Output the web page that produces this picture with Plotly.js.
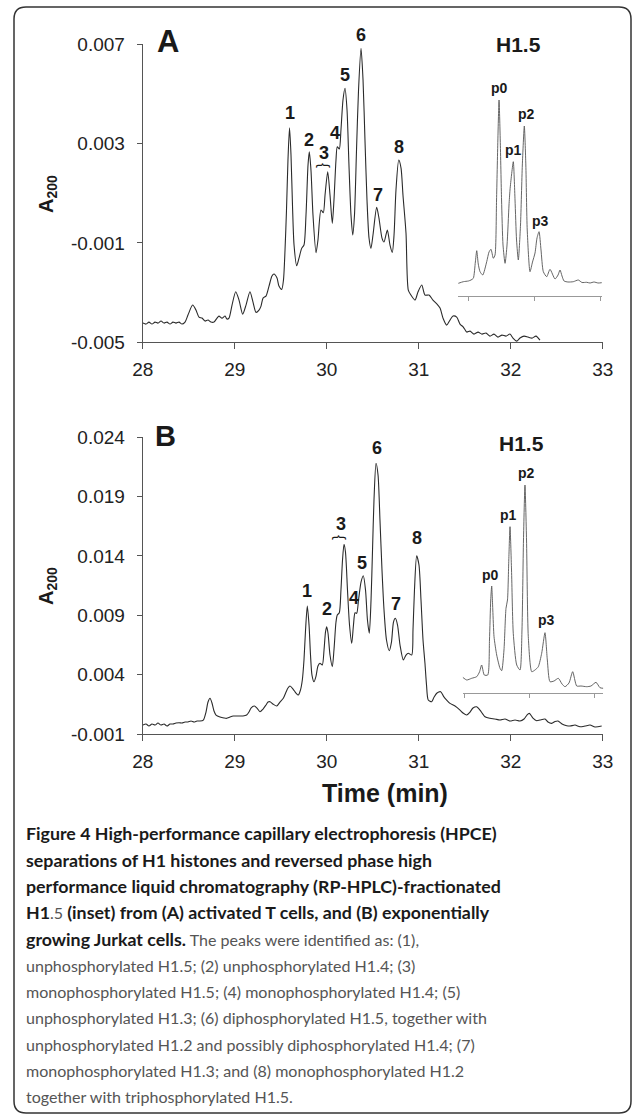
<!DOCTYPE html>
<html>
<head>
<meta charset="utf-8">
<script src="https://cdn.plot.ly/plotly-3.0.1.min.js"></script>
<style>
html,body{margin:0;padding:0;background:#fff;}
#chart{width:633px;height:1116px;}
</style>
</head>
<body>
<div id="chart"></div>
<script>
// ---------- DATA ----------
// Panel A: HPCE of activated T cells (time in min, A200)
const timeA = [28.003,28.036,28.068,28.101,28.134,28.166,28.199,28.232,28.264,28.297,28.329,28.362,28.395,28.427,28.460,
  28.492,28.543,28.579,28.612,28.645,28.677,28.710,28.742,28.775,28.808,28.829,28.862,28.895,28.916,28.938,
  28.971,29.011,29.047,29.087,29.123,29.166,29.199,29.232,29.264,29.286,29.308,29.340,29.373,29.405,29.427,
  29.460,29.481,29.511,29.530,29.547,29.563,29.579,29.596,29.612,29.628,29.645,29.674,29.699,29.728,29.753,
  29.775,29.797,29.811,29.829,29.851,29.884,29.905,29.938,29.963,29.982,30.011,30.036,30.061,30.079,30.101,
  30.115,30.137,30.155,30.177,30.199,30.221,30.242,30.264,30.283,30.302,30.324,30.346,30.373,30.395,30.416,
  30.438,30.460,30.481,30.503,30.543,30.568,30.601,30.623,30.659,30.688,30.713,30.732,30.753,30.783,30.808,
  30.829,30.862,30.887,30.916,30.960,30.992,31.033,31.068,31.112,31.155,31.199,31.232,31.264,31.304,31.340,
  31.373,31.413,31.449,31.485,31.522,31.558,31.601,31.645,31.688,31.732,31.775,31.818,31.862,31.905,31.949,
  31.992,32.025,32.065,32.101,32.145,32.188,32.232,32.275,32.318];
const absA = [-0.004226,-0.004266,-0.004186,-0.004266,-0.004186,-0.004226,-0.004145,-0.004226,-0.004186,-0.004266,-0.004186,-0.004226,-0.004186,-0.004266,-0.004186,
  -0.003904,-0.003501,-0.003702,-0.003985,-0.004025,-0.004145,-0.004105,-0.004186,-0.004186,-0.004025,-0.003944,-0.004025,-0.003944,-0.004065,-0.004025,
  -0.003501,-0.002965,-0.003300,-0.003864,-0.003501,-0.002965,-0.003380,-0.003795,-0.003702,-0.003541,-0.003219,-0.003138,-0.002736,-0.002333,-0.002252,
  -0.002413,-0.002736,-0.002869,-0.002494,-0.001286,0.000326,0.002340,0.003641,0.002541,0.000527,-0.001084,-0.001918,-0.001608,-0.001217,-0.001084,
  0.000124,0.002138,0.002674,0.001937,0.000124,-0.001394,-0.000883,0.000326,0.000217,0.000930,0.001868,0.000930,-0.000210,0.000728,0.002340,
  0.002875,0.002783,0.003548,0.004756,0.005228,0.004354,0.002138,0.000124,-0.000681,0.000124,0.002742,0.005159,0.006839,0.005562,0.003145,
  0.000728,-0.000802,-0.001217,-0.000681,0.000434,0.000003,-0.000802,-0.000963,-0.000480,-0.001084,-0.001378,-0.000681,0.001131,0.002340,0.002017,
  0.000930,-0.000601,-0.002897,-0.003098,-0.003300,-0.002977,-0.002695,-0.003098,-0.003098,-0.003300,-0.003461,-0.003622,-0.004025,-0.004307,-0.004105,
  -0.003944,-0.003985,-0.004266,-0.004387,-0.004589,-0.004549,-0.004669,-0.004589,-0.004669,-0.004629,-0.004750,-0.004669,-0.004790,-0.004710,-0.004750,
  -0.004669,-0.004830,-0.004951,-0.004830,-0.004750,-0.004790,-0.004830,-0.004750,-0.004911];

// Panel B: HPCE of exponentially growing Jurkat cells
const timeB = [28.003,28.036,28.068,28.101,28.134,28.166,28.199,28.232,28.264,28.297,28.329,28.362,28.395,28.427,28.460,28.492,28.525,28.558,28.590,28.623,
  28.659,28.688,28.710,28.732,28.753,28.775,28.797,28.840,28.884,28.913,28.949,28.985,29.025,29.058,29.090,29.130,29.155,29.177,29.213,29.242,
  29.275,29.308,29.340,29.362,29.384,29.416,29.457,29.492,29.528,29.558,29.579,29.601,29.634,29.666,29.691,29.715,29.735,29.753,29.770,29.789,
  29.808,29.824,29.840,29.862,29.884,29.905,29.927,29.952,29.971,29.987,30.000,30.014,30.036,30.061,30.079,30.101,30.115,30.137,30.155,30.172,
  30.188,30.204,30.226,30.248,30.272,30.291,30.308,30.326,30.346,30.373,30.398,30.422,30.443,30.463,30.482,30.498,30.514,30.536,30.558,30.579,
  30.601,30.623,30.650,30.680,30.704,30.726,30.746,30.770,30.797,30.833,30.862,30.887,30.924,30.938,30.954,30.978,31.003,31.025,31.047,31.068,
  31.085,31.104,31.141,31.166,31.199,31.239,31.270,31.304,31.340,31.395,31.449,31.482,31.522,31.558,31.590,31.630,31.666,31.721,31.775,31.829,
  31.884,31.938,31.992,32.047,32.101,32.145,32.177,32.202,32.242,32.283,32.318,32.373,32.405,32.446,32.482,32.514,32.558,32.609,32.645,32.699,
  32.753,32.808,32.862,32.917,32.989];
const absB = [-0.000245,-0.000160,-0.000329,-0.000160,-0.000245,-0.000076,-0.000245,-0.000160,-0.000329,-0.000160,-0.000160,-0.000076,-0.000051,-0.000076,0.000008,0.000008,0.000093,0.000008,0.000093,0.000093,
  0.000177,0.000851,0.001694,0.002006,0.001610,0.000935,0.000598,0.000430,0.000346,0.000320,0.000430,0.000514,0.000514,0.000514,0.000514,0.000598,0.000851,0.001188,0.001357,0.001188,
  0.000876,0.001104,0.001441,0.001694,0.001719,0.001525,0.001357,0.001694,0.002006,0.002536,0.002874,0.003042,0.002790,0.002452,0.002284,0.002705,0.003548,0.005233,0.007761,0.009784,
  0.008183,0.005655,0.003969,0.003404,0.003885,0.004727,0.004955,0.004812,0.006076,0.007593,0.008039,0.007509,0.005655,0.004669,0.006076,0.008435,0.009025,0.009219,0.011132,0.013660,
  0.014983,0.014334,0.011132,0.008183,0.006640,0.008183,0.009219,0.009168,0.010289,0.011806,0.012337,0.011132,0.008604,0.007483,0.010289,0.014503,0.018716,0.021809,0.020823,0.017031,
  0.012817,0.009447,0.006918,0.006017,0.006749,0.008435,0.008747,0.008183,0.006497,0.005233,0.005655,0.005798,0.005655,0.007761,0.011132,0.014022,0.013239,0.010289,0.006918,0.004955,
  0.003126,0.001862,0.001719,0.002090,0.002452,0.002562,0.002174,0.001862,0.001584,0.001357,0.001019,0.000767,0.000598,0.000851,0.001188,0.001297,0.001019,0.000455,0.000320,0.000261,
  0.000177,0.000261,0.000093,0.000177,0.000093,0.000261,0.000598,0.000741,0.000346,0.000118,0.000177,0.000261,0.000008,-0.000102,0.000051,0.000093,-0.000160,-0.000303,-0.000329,-0.000245,
  -0.000387,-0.000329,-0.000245,-0.000413,-0.000329];

// Insets: RP-HPLC-fractionated H1.5 (arbitrary time / signal units)
const insetTimeA = [-0.147,-0.071,0.005,0.045,0.080,0.111,0.132,0.155,0.182,0.223,0.283,0.318,0.348,0.383,0.409,0.432,0.452,0.470,0.488,0.508,
  0.530,0.561,0.591,0.621,0.636,0.659,0.686,0.712,0.735,0.762,0.795,0.823,0.853,0.876,0.897,0.939,0.977,1.015,1.045,1.076,
  1.106,1.141,1.192,1.242,1.318,1.364,1.394,1.424,1.455,1.515,1.595,1.671,1.727,1.798,1.848,1.909,1.970,2.026];
const insetSignalA = [0.127,0.143,0.150,0.160,0.177,0.340,0.453,0.320,0.243,0.210,0.343,0.440,0.467,0.377,0.410,0.960,1.560,1.960,1.560,0.960,
  0.510,0.327,0.510,0.910,1.060,1.210,1.343,0.960,0.560,0.360,0.710,1.310,1.700,1.310,0.660,0.243,0.340,0.430,0.580,0.643,
  0.460,0.243,0.193,0.267,0.170,0.210,0.260,0.200,0.150,0.140,0.143,0.160,0.135,0.137,0.130,0.140,0.130,0.133];
const insetTimeB = [-0.020,0.042,0.118,0.195,0.238,0.272,0.312,0.365,0.392,0.411,0.426,0.443,0.462,0.503,0.554,0.580,0.615,0.646,0.669,0.689,
  0.708,0.731,0.758,0.811,0.862,0.892,0.915,0.938,0.962,0.989,1.042,1.092,1.143,1.195,1.246,1.282,1.323,1.385,1.451,1.508,
  1.554,1.615,1.672,1.734,1.800,1.888,1.954,2.031,2.092,2.143];
const insetSignalB = [0.154,0.127,0.144,0.160,0.207,0.277,0.177,0.177,0.527,0.927,1.067,0.827,0.560,0.377,0.244,0.220,0.427,0.844,0.927,1.327,
  1.660,1.227,0.594,0.277,0.227,0.627,1.527,2.077,1.527,0.560,0.210,0.227,0.260,0.394,0.600,0.327,0.110,0.117,0.144,0.087,
  0.060,0.097,0.210,0.067,0.067,0.060,0.067,0.104,0.050,0.044];

const timeTicks = [28, 29, 30, 31, 32, 33];
const yTicksA = [-0.005, -0.001, 0.003, 0.007];
const yTickTextA = ['-0.005', '-0.001', '0.003', '0.007'];
const yTicksB = [-0.001, 0.004, 0.009, 0.014, 0.019, 0.024];
const yTickTextB = ['-0.001', '0.004', '0.009', '0.014', '0.019', '0.024'];
const insetTicks = [0, 1, 2];

const peakNames = ['1', '2', '3', '4', '5', '6', '7', '8'];
const insetPeakNames = ['p0', 'p1', 'p2', 'p3'];

const B0 = '<span style="color:#1a1a1a;font-size:17.8px"><b>';
const B1 = '</b></span>';
const captionLines = [
  B0 + 'Figure 4 High-performance capillary electrophoresis (HPCE)' + B1,
  B0 + 'separations of H1 histones and reversed phase high' + B1,
  B0 + 'performance liquid chromatography (RP-HPLC)-fractionated' + B1,
  B0 + 'H1' + B1 + '.5 ' + B0 + '(inset) from (A) activated T cells, and (B) exponentially' + B1,
  B0 + 'growing Jurkat cells.' + B1 + ' The peaks were identified as: (1),',
  'unphosphorylated H1.5; (2) unphosphorylated H1.4; (3)',
  'monophosphorylated H1.5; (4) monophosphorylated H1.4; (5)',
  'unphosphorylated H1.3; (6) diphosphorylated H1.5, together with',
  'unphosphorylated H1.2 and possibly diphosphorylated H1.4; (7)',
  'monophosphorylated H1.3; and (8) monophosphorylated H1.2',
  'together with triphosphorylated H1.5.'
];

// ---------- LAYOUT HELPERS ----------
const W = 633, H = 1116;
const P = x => x / W;
const Q = y => 1 - y / H;
const AX = '#555';
const tickFont = {family: 'Liberation Sans, Arial, sans-serif', size: 19, color: '#222'};
const boldFam = 'Liberation Sans, Arial, sans-serif';

function mainX(anchor) {
  return {domain: [P(142.7), P(602.7)], anchor: anchor, range: [28, 33], tickvals: timeTicks,
    ticktext: timeTicks.map(String), ticks: 'outside', ticklen: 6, tickcolor: AX, tickwidth: 1,
    showline: true, linecolor: AX, linewidth: 1, showgrid: false, zeroline: false,
    tickfont: tickFont, ticklabelstandoff: 4, fixedrange: true};
}
function mainY(anchor, dom, rng, tv, tt) {
  return {domain: dom, anchor: anchor, range: rng, tickvals: tv, ticktext: tt, ticks: 'outside',
    ticklen: 5, tickcolor: AX, tickwidth: 1, showline: true, linecolor: AX, linewidth: 1,
    showgrid: false, zeroline: false, tickfont: tickFont, ticklabelstandoff: 8, fixedrange: true};
}
function insetX(anchor, dom, rng) {
  return {domain: dom, anchor: anchor, range: rng, tickvals: insetTicks, ticks: 'outside', ticklen: 4,
    tickcolor: '#999', showticklabels: false, showline: true, linecolor: '#999', linewidth: 1,
    showgrid: false, zeroline: false, fixedrange: true};
}
function insetY(anchor, dom) {
  return {domain: dom, anchor: anchor, range: [0, 2.2], visible: false, showgrid: false, zeroline: false, fixedrange: true};
}

function label(text, x, y, size, extra) {
  return Object.assign({text: text, xref: 'paper', yref: 'paper', x: P(x), y: Q(y), xanchor: 'center',
    yanchor: 'middle', showarrow: false, font: {family: boldFam, size: size, color: '#1a1a1a'}}, extra || {});
}

// peak label pixel positions (layout only)
const peakPosA = [[289.5,113],[309,140],[324,153],[334.5,133],[345,75],[361,35],[377.7,195],[399.3,146.7]];
const peakPosB = [[307,590.5],[326.7,609.3],[341,524],[354,598.3],[362.3,562.7],[376.7,448.3],[395.7,604],[416.7,537.7]];
const insetPosA = [[499,88.3],[513.3,150],[526.7,114.3],[540.7,221]];
const insetPosB = [[490,575],[508,515],[526,473],[546,620]];

const annotations = [];
peakNames.forEach((n, i) => {
  annotations.push(label('<b>' + n + '</b>', peakPosA[i][0], peakPosA[i][1], 18));
  annotations.push(label('<b>' + n + '</b>', peakPosB[i][0], peakPosB[i][1], 18));
});
insetPeakNames.forEach((n, i) => {
  annotations.push(label('<b>' + n + '</b>', insetPosA[i][0], insetPosA[i][1], 14));
  annotations.push(label('<b>' + n + '</b>', insetPosB[i][0], insetPosB[i][1], 14));
});
// braces under label 3
annotations.push(label('{', 324.5, 165.5, 15, {textangle: 90}));
annotations.push(label('{', 341, 537, 15, {textangle: 90}));
// inset titles
annotations.push(label('<b>H1.5</b>', 518.3, 45, 21));
annotations.push(label('<b>H1.5</b>', 521.7, 443.3, 21));
// panel letters
annotations.push(label('<b>A</b>', 167.5, 41, 31));
annotations.push(label('<b>B</b>', 165, 436, 29));
// y axis titles
annotations.push(label('<b>A<sub>200</sub></b>', 47, 194, 20, {textangle: -90}));
annotations.push(label('<b>A<sub>200</sub></b>', 47, 586, 20, {textangle: -90}));
// x axis title
annotations.push(label('<b>Time (min)</b>', 384.5, 793, 25));
// caption
captionLines.forEach((t, i) => {
  annotations.push({text: t, xref: 'paper', yref: 'paper', x: P(24), y: Q(833.3 + i * 26.34),
    xanchor: 'left', yanchor: 'middle', showarrow: false, align: 'left',
    font: {family: 'Lato, Noto Sans, sans-serif', size: 16.05, color: '#555'}});
});

// rounded border
const bx0 = P(14), bx1 = P(631), by0 = Q(1113), by1 = Q(7);
const rx = 12 / W, ry = 12 / H;
const borderPath = `M ${bx0 + rx} ${by1} L ${bx1 - rx} ${by1} Q ${bx1} ${by1} ${bx1} ${by1 - ry} ` +
  `L ${bx1} ${by0 + ry} Q ${bx1} ${by0} ${bx1 - rx} ${by0} L ${bx0 + rx} ${by0} Q ${bx0} ${by0} ${bx0} ${by0 + ry} ` +
  `L ${bx0} ${by1 - ry} Q ${bx0} ${by1} ${bx0 + rx} ${by1} Z`;

const mainLine = {color: '#2b2b2b', width: 1.1, shape: 'spline', smoothing: 0.7};
const insetLine = {color: '#555', width: 0.9, shape: 'spline', smoothing: 0.6};

const data = [
  {x: timeA, y: absA, xaxis: 'x', yaxis: 'y', type: 'scatter', mode: 'lines', line: mainLine, hoverinfo: 'skip'},
  {x: timeB, y: absB, xaxis: 'x2', yaxis: 'y2', type: 'scatter', mode: 'lines', line: mainLine, hoverinfo: 'skip'},
  {x: insetTimeA, y: insetSignalA, xaxis: 'x3', yaxis: 'y3', type: 'scatter', mode: 'lines', line: insetLine, hoverinfo: 'skip'},
  {x: insetTimeB, y: insetSignalB, xaxis: 'x4', yaxis: 'y4', type: 'scatter', mode: 'lines', line: insetLine, hoverinfo: 'skip'}
];

const layout = {
  width: W, height: H, margin: {l: 0, r: 0, t: 0, b: 0}, showlegend: false,
  paper_bgcolor: '#fff', plot_bgcolor: 'rgba(0,0,0,0)',
  xaxis: mainX('y'),
  yaxis: mainY('x', [Q(342.3), Q(44.3)], [-0.005, 0.007], yTicksA, yTickTextA),
  xaxis2: mainX('y2'),
  yaxis2: mainY('x2', [Q(734), Q(437.3)], [-0.001, 0.024], yTicksB, yTickTextB),
  xaxis3: insetX('y3', [P(458), P(602)], [-0.152, 2.03]),
  yaxis3: insetY('x3', [Q(296), Q(76)]),
  xaxis4: insetX('y4', [P(462.7), P(603.3)], [-0.02, 2.143]),
  yaxis4: insetY('x4', [Q(692.7), Q(472.7)]),
  annotations: annotations,
  shapes: [{type: 'path', xref: 'paper', yref: 'paper', path: borderPath, line: {color: '#333', width: 1.5}}]
};

Plotly.newPlot('chart', data, layout, {staticPlot: true, displayModeBar: false});
</script>
</body>
</html>
